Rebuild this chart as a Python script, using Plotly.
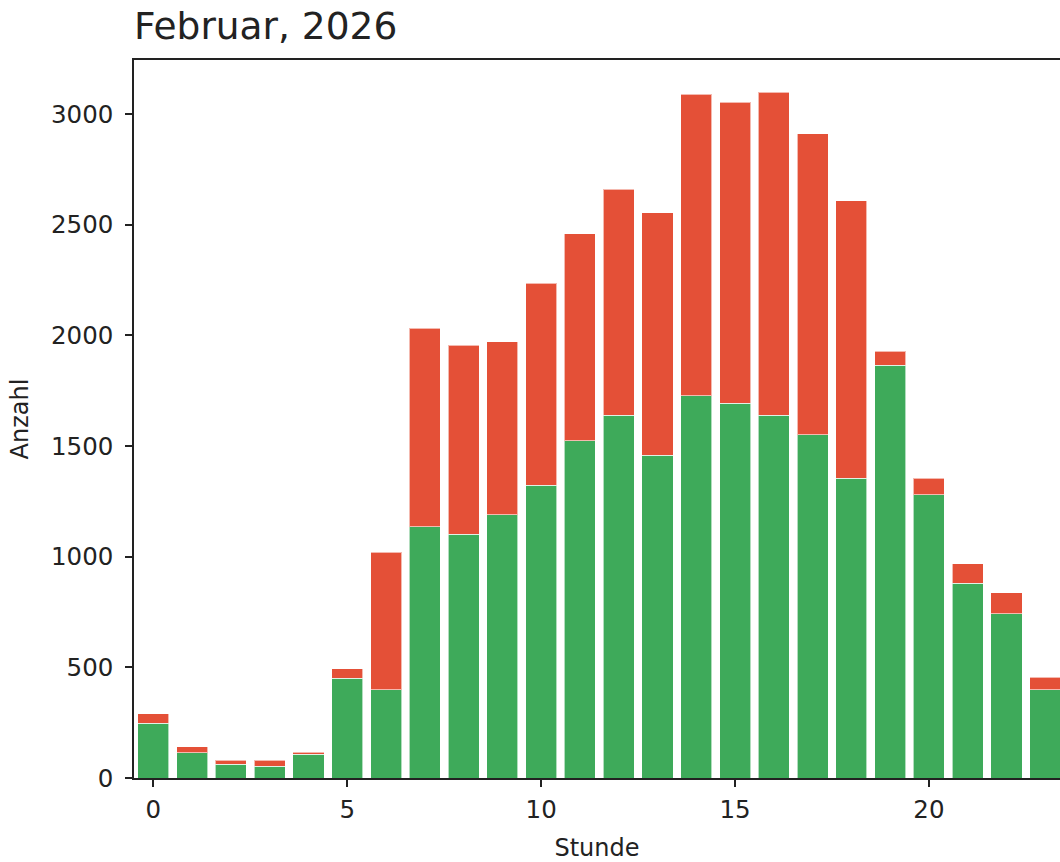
import plotly.graph_objects as go

hours = list(range(24))
green = [248, 114, 63, 54, 108, 450, 398, 1136, 1101, 1190, 1322, 1524,
         1639, 1459, 1726, 1694, 1640, 1550, 1355, 1866, 1279, 881, 741, 398]
red = [42, 27, 18, 27, 8, 44, 623, 897, 854, 781, 914, 934,
       1022, 1094, 1364, 1360, 1459, 1360, 1252, 63, 76, 86, 95, 58]
x_ticks = [0, 5, 10, 15, 20]
y_ticks = [0, 500, 1000, 1500, 2000, 2500, 3000]

GREEN = "#3eaa5a"
RED = "#e45037"
FONT = "DejaVu Sans"
W, H = 1060, 862

fig = go.Figure()
fig.add_trace(go.Bar(x=hours, y=green, marker=dict(color=GREEN, line=dict(color="rgba(255,255,255,0.6)", width=1)),
                     showlegend=False))
fig.add_trace(go.Bar(x=hours, y=red, marker=dict(color=RED, line=dict(color="rgba(255,255,255,0.6)", width=1)),
                     showlegend=False))

fig.update_layout(
    width=W, height=H,
    barmode="stack", bargap=0.2,
    plot_bgcolor="white", paper_bgcolor="white",
    margin=dict(l=134, r=0, t=60, b=84),
    font=dict(family=FONT, size=24.5, color="#222222"),
    title=dict(text="Februar, 2026", x=134/W, xanchor="left", xref="container",
               y=1-39/H, yanchor="bottom", yref="container",
               font=dict(family=FONT, size=37.5, color="#222222")),
)
fig.update_xaxes(range=[-0.5, 23.38], tickvals=x_ticks, ticks="outside", ticklen=7, tickwidth=1.5,
                 tickcolor="#222222", showline=True, linecolor="#222222", linewidth=1.5, mirror=True,
                 showgrid=False, zeroline=False, ticklabelstandoff=2,
                 title=dict(text="Stunde", standoff=17, font=dict(size=24)))
fig.update_yaxes(range=[0, 3244], tickvals=y_ticks, ticks="outside",
                 ticklen=7, tickwidth=1.5, tickcolor="#222222", showline=True, linecolor="#222222",
                 linewidth=1.5, mirror=False, showgrid=False, zeroline=False, ticklabelstandoff=7,
                 title=dict(text="Anzahl", standoff=16, font=dict(size=24)))

fig.write_html("out.html", config={"displayModeBar": False},
               post_script="document.body.style.margin='0';document.body.style.overflow='hidden';")
